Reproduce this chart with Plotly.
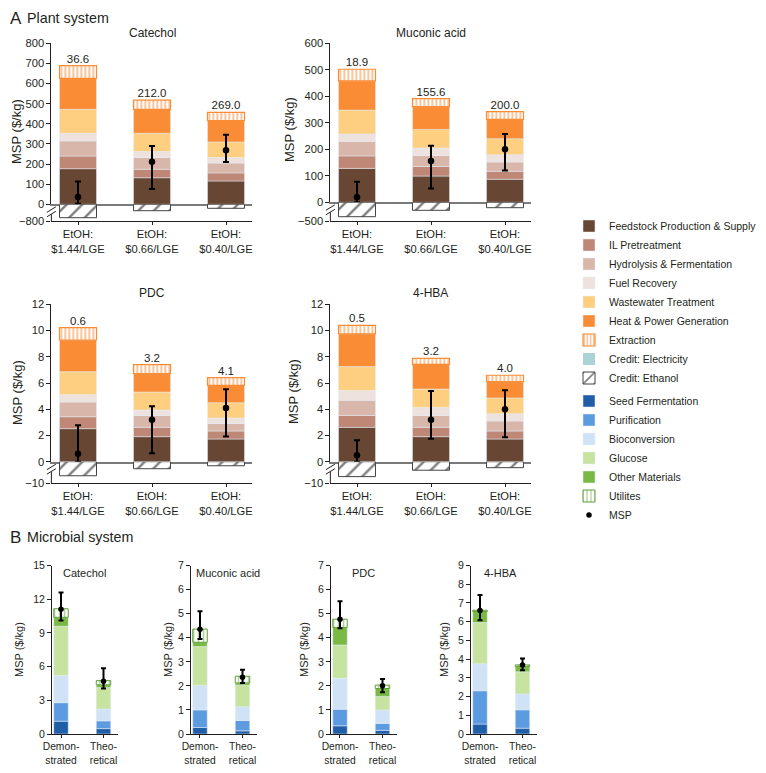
import plotly.graph_objects as go

# The page body keeps its default 8 px margin, so the figure is sized to fill the
# remaining 750 x 757 area and all positions below are given in window pixels.
WIN_W, WIN_H = 766, 773
OFF = 8
W, H = WIN_W - 2 * OFF, WIN_H - 2 * OFF

# ---------------- data: plant system ----------------
plant_products = ["Catechol", "Muconic acid", "PDC", "4-HBA"]
plant_cases = ["EtOH:<br>$1.44/LGE", "EtOH:<br>$0.66/LGE", "EtOH:<br>$0.40/LGE"]

feedstock = {"Catechol": [177, 132, 116], "Muconic acid": [128, 99, 87],
             "PDC": [2.52, 1.91, 1.73], "4-HBA": [2.62, 1.91, 1.73]}
il_pretreatment = {"Catechol": [63, 42, 40], "Muconic acid": [47, 36, 30],
                   "PDC": [0.91, 0.71, 0.61], "4-HBA": [0.91, 0.71, 0.61]}
hydrolysis = {"Catechol": [75, 59, 49], "Muconic acid": [55, 42, 35],
              "PDC": [1.12, 0.91, 0.58], "4-HBA": [1.15, 0.91, 0.76]}
fuel_recovery = {"Catechol": [38, 29, 27], "Muconic acid": [28, 28, 27],
                 "PDC": [0.56, 0.41, 0.41], "4-HBA": [0.74, 0.61, 0.56]}
wastewater = {"Catechol": [119, 91, 78], "Muconic acid": [90, 70, 61],
              "PDC": [1.75, 1.37, 1.17], "4-HBA": [1.83, 1.40, 1.20]}
heat_power = {"Catechol": [154, 119, 106], "Muconic acid": [110, 86, 73],
              "PDC": [2.42, 1.40, 1.32], "4-HBA": [2.49, 1.88, 1.24]}
extraction = {"Catechol": [63, 46, 41], "Muconic acid": [44, 30, 29],
              "PDC": [0.94, 0.69, 0.59], "4-HBA": [0.66, 0.46, 0.49]}
credit_electricity = {"Catechol": [0, 0, 0], "Muconic acid": [0, 0, 0],
                      "PDC": [0, 0, 0], "4-HBA": [0, 0, 0]}
credit_ethanol = {"Catechol": [-642, -307, -192], "Muconic acid": [-385, -214, -144],
                  "PDC": [-6.6, -3.3, -1.9], "4-HBA": [-7.0, -4.0, -2.8]}
plant_msp = {"Catechol": [36.6, 212.0, 269.0], "Muconic acid": [18.9, 155.6, 200.0],
             "PDC": [0.6, 3.2, 4.1], "4-HBA": [0.5, 3.2, 4.0]}
plant_low = {"Catechol": [3, 76, 210], "Muconic acid": [0, 52, 120],
             "PDC": [0.0, 0.64, 1.93], "4-HBA": [0.0, 1.75, 1.87]}
plant_high = {"Catechol": [113, 290, 345], "Muconic acid": [78, 213, 258],
              "PDC": [2.77, 4.22, 5.53], "4-HBA": [1.63, 5.39, 5.45]}
plant_ymax = {"Catechol": 800, "Muconic acid": 600, "PDC": 12, "4-HBA": 12}
plant_dtick = {"Catechol": 100, "Muconic acid": 100, "PDC": 2, "4-HBA": 2}
plant_ymin_break = {"Catechol": -800, "Muconic acid": -500, "PDC": -10, "4-HBA": -10}

# ---------------- data: microbial system ----------------
micro_products = ["Catechol", "Muconic acid", "PDC", "4-HBA"]
micro_cases = ["Demon-<br>strated", "Theo-<br>retical"]

seed = {"Catechol": [1.14, 0.48], "Muconic acid": [0.27, 0.13], "PDC": [0.34, 0.15], "4-HBA": [0.53, 0.31]}
purification = {"Catechol": [1.65, 0.69], "Muconic acid": [0.73, 0.43], "PDC": [0.69, 0.29], "4-HBA": [1.78, 0.98]}
bioconversion = {"Catechol": [2.42, 1.05], "Muconic acid": [1.02, 0.57], "PDC": [1.29, 0.56], "4-HBA": [1.44, 0.85]}
glucose = {"Catechol": [4.38, 1.91], "Muconic acid": [1.61, 0.90], "PDC": [1.38, 0.56], "4-HBA": [2.20, 1.18]}
other_materials = {"Catechol": [0.80, 0.25], "Muconic acid": [0.18, 0.09], "PDC": [0.73, 0.33], "4-HBA": [0.59, 0.29]}
utilities = {"Catechol": [0.76, 0.37], "Muconic acid": [0.55, 0.28], "PDC": [0.34, 0.14], "4-HBA": [0.07, 0.08]}
micro_msp = {"Catechol": [11.1, 4.7], "Muconic acid": [4.35, 2.36], "PDC": [4.77, 2.0], "4-HBA": [6.6, 3.68]}
micro_low = {"Catechol": [10.1, 4.05], "Muconic acid": [3.95, 2.12], "PDC": [4.39, 1.73], "4-HBA": [6.07, 3.40]}
micro_high = {"Catechol": [12.6, 5.85], "Muconic acid": [5.1, 2.67], "PDC": [5.52, 2.28], "4-HBA": [7.42, 4.03]}
micro_ymax = {"Catechol": 15, "Muconic acid": 7, "PDC": 7, "4-HBA": 9}
micro_dtick = {"Catechol": 3, "Muconic acid": 1, "PDC": 1, "4-HBA": 1}

# ---------------- styles ----------------
FONT = "Liberation Sans, Arial, sans-serif"
INK = "#231f20"
ORANGE = "#f98c34"
GREEN_LINE = "#5c9e34"

plant_series = [
    ("Feedstock Production & Supply", feedstock, dict(color="#684634")),
    ("IL Pretreatment", il_pretreatment, dict(color="#be8776")),
    ("Hydrolysis & Fermentation", hydrolysis, dict(color="#d8b6aa")),
    ("Fuel Recovery", fuel_recovery, dict(color="#eee2de")),
    ("Wastewater Treatment", wastewater, dict(color="#fecf80")),
    ("Heat & Power Generation", heat_power, dict(color=ORANGE)),
    ("Extraction", extraction, dict(color="white",
                                     pattern=dict(shape="|", fgcolor=ORANGE, bgcolor="white",
                                                  size=4, solidity=0.5),
                                     line=dict(color=ORANGE, width=1.2))),
]
credit_series = [
    ("Credit: Electricity", credit_electricity, dict(color="#abd3d6", line=dict(width=0))),
    ("Credit: Ethanol", credit_ethanol, dict(color="white",
                                             pattern=dict(shape="/", fgcolor="#000000", bgcolor="white",
                                                          size=11, solidity=0.22),
                                             line=dict(color="#444444", width=1))),
]
micro_series = [
    ("Seed Fermentation", seed, dict(color="#205ea8")),
    ("Purification", purification, dict(color="#5d9be0")),
    ("Bioconversion", bioconversion, dict(color="#cfe2f6")),
    ("Glucose", glucose, dict(color="#c6e4a0")),
    ("Other Materials", other_materials, dict(color="#7ab943")),
    ("Utilites", utilities, dict(color="white",
                                 pattern=dict(shape="|", fgcolor=GREEN_LINE, bgcolor="white",
                                              size=5, solidity=0.3),
                                 line=dict(color=GREEN_LINE, width=1))),
]

# ---------------- geometry (window pixels) ----------------
def px(x):
    return min(max((x - OFF) / W, 0.0), 1.0)


def py(y):
    return min(max(1 - (y - OFF) / H, 0.0), 1.0)


plant_geo = {
    "Catechol": dict(c0=78, ytop=43.3, yzero=204.3, ybot=221, tx=152, ty=33, yt=(17, 132)),
    "Muconic acid": dict(c0=357, ytop=43.3, yzero=202.3, ybot=221, tx=431, ty=33, yt=(290, 130)),
    "PDC": dict(c0=78, ytop=304.3, yzero=461.7, ybot=483, tx=152, ty=293, yt=(17, 393)),
    "4-HBA": dict(c0=357, ytop=304.3, yzero=461.7, ybot=483, tx=431, ty=293, yt=(293, 392)),
}
P_SP = 74.0
P_R = [-0.36, 2.35]

micro_geo = {
    "Catechol": dict(c0=61, tx=84, yt=(19, 650)),
    "Muconic acid": dict(c0=200, tx=228, yt=(168, 650)),
    "PDC": dict(c0=340, tx=363, yt=(304, 650)),
    "4-HBA": dict(c0=480, tx=500, yt=(444, 650)),
}
M_SP = 42.5
M_R = [-0.21, 1.34]
M_TOP, M_ZERO = 565.5, 734

fig = go.Figure()
layout = dict(width=W, height=H, margin=dict(l=0, r=0, t=0, b=0, pad=0, autoexpand=False),
              paper_bgcolor="white", plot_bgcolor="white", barmode="relative",
              font=dict(family=FONT, color=INK, size=11), showlegend=True,
              annotations=[], shapes=[])


def sfx(n):
    return "" if n == 1 else str(n)


def ytitle(cx, cy, size):
    return dict(text="MSP ($/kg)", x=px(cx), y=py(cy), xref="paper", yref="paper",
                textangle=-90, showarrow=False, font=dict(size=size),
                xanchor="center", yanchor="middle")


plant_ids = {}
for i, prod in enumerate(plant_products):
    up, lo = 2 * i + 1, 2 * i + 2
    plant_ids[prod] = (up, lo)
    g = plant_geo[prod]
    x0 = g["c0"] + P_R[0] * P_SP
    x1 = g["c0"] + P_R[1] * P_SP
    common_x = dict(domain=[px(x0), px(x1)], range=P_R, type="category",
                    categoryorder="array", categoryarray=plant_cases, showgrid=False,
                    zeroline=False, tickangle=0)
    layout["xaxis" + sfx(up)] = dict(common_x, anchor="y" + sfx(up), showline=True,
                                     linecolor="#7a7a7a", linewidth=1.6, ticks="",
                                     showticklabels=False)
    layout["xaxis" + sfx(lo)] = dict(common_x, anchor="y" + sfx(lo), showline=True,
                                     linecolor=INK, linewidth=1, ticks="outside", ticklen=3,
                                     tickcolor=INK, tickfont=dict(size=11.2))
    layout["yaxis" + sfx(up)] = dict(domain=[py(g["yzero"]), py(g["ytop"])],
                                     range=[0, plant_ymax[prod]], dtick=plant_dtick[prod],
                                     anchor="x" + sfx(up), showline=True, linecolor=INK,
                                     linewidth=1, ticks="outside", ticklen=4, tickcolor=INK,
                                     tickfont=dict(size=11.2), showgrid=False, zeroline=False)
    layout["yaxis" + sfx(lo)] = dict(domain=[py(g["ybot"]), py(g["yzero"])],
                                     range=[plant_ymin_break[prod], 0],
                                     tickvals=[plant_ymin_break[prod]],
                                     anchor="x" + sfx(lo), showline=False, ticks="outside",
                                     ticklen=4, tickcolor=INK, tickfont=dict(size=11.2),
                                     showgrid=False, zeroline=False)
    layout["annotations"].append(dict(text=prod, x=px(g["tx"]), y=py(g["ty"]),
                                      xref="paper", yref="paper", showarrow=False,
                                      font=dict(size=12), xanchor="center", yanchor="middle"))
    layout["annotations"].append(ytitle(g["yt"][0], g["yt"][1], 13))
    # broken-axis decoration
    yz, yb = g["yzero"], g["ybot"]
    layout["shapes"].append(dict(type="line", xref="paper", yref="paper",
                                 x0=px(x0), x1=px(x0), y0=py(yz + 10), y1=py(yb),
                                 line=dict(color=INK, width=1)))
    for off in (0, 4.5):
        layout["shapes"].append(dict(type="line", xref="paper", yref="paper",
                                     x0=px(x0 - 4.5), x1=px(x0 + 4.5),
                                     y0=py(yz + 8 + off), y1=py(yz + 2.5 + off),
                                     line=dict(color=INK, width=1)))

micro_ids = {}
for i, prod in enumerate(micro_products):
    n = 9 + i
    micro_ids[prod] = n
    g = micro_geo[prod]
    x0 = g["c0"] + M_R[0] * M_SP
    x1 = g["c0"] + M_R[1] * M_SP
    layout["xaxis" + sfx(n)] = dict(domain=[px(x0), px(x1)], range=M_R, type="category",
                                    categoryorder="array", categoryarray=micro_cases,
                                    anchor="y" + sfx(n), showline=True, linecolor=INK,
                                    linewidth=1, ticks="outside", ticklen=3, tickcolor=INK,
                                    tickangle=0, tickfont=dict(size=10.3),
                                    showgrid=False, zeroline=False)
    layout["yaxis" + sfx(n)] = dict(domain=[py(M_ZERO), py(M_TOP)],
                                    range=[0, micro_ymax[prod]], dtick=micro_dtick[prod],
                                    anchor="x" + sfx(n), showline=True, linecolor=INK,
                                    linewidth=1, ticks="outside", ticklen=4, tickcolor=INK,
                                    tickfont=dict(size=10.6), showgrid=False, zeroline=False)
    layout["annotations"].append(dict(text=prod, x=px(g["tx"]), y=py(573),
                                      xref="paper", yref="paper", showarrow=False,
                                      font=dict(size=11), xanchor="center", yanchor="middle"))
    layout["annotations"].append(ytitle(g["yt"][0], g["yt"][1], 11))

# section headings
for letter, title, yy in (("A", "Plant system", 18), ("B", "Microbial system", 537)):
    layout["annotations"].append(dict(text=letter, x=px(8), y=py(yy), xref="paper", yref="paper",
                                      showarrow=False, font=dict(size=17), xanchor="left",
                                      yanchor="middle"))
    layout["annotations"].append(dict(text=title, x=px(25), y=py(yy), xref="paper", yref="paper",
                                      showarrow=False, font=dict(size=14.3), xanchor="left",
                                      yanchor="middle"))

# ---------------- traces ----------------
for name, values, marker in plant_series:
    for j, prod in enumerate(plant_products):
        up, _ = plant_ids[prod]
        fig.add_trace(go.Bar(x=plant_cases, y=values[prod], name=name, marker=marker,
                             width=0.5, xaxis="x" + sfx(up), yaxis="y" + sfx(up),
                             legendgroup="plant", showlegend=(j == 0)))
for name, values, marker in credit_series:
    for j, prod in enumerate(plant_products):
        _, lo = plant_ids[prod]
        fig.add_trace(go.Bar(x=plant_cases, y=values[prod], name=name, marker=marker,
                             width=0.5, xaxis="x" + sfx(lo), yaxis="y" + sfx(lo),
                             legendgroup="plant", showlegend=(j == 0)))
for name, values, marker in micro_series:
    for j, prod in enumerate(micro_products):
        n = micro_ids[prod]
        fig.add_trace(go.Bar(x=micro_cases, y=values[prod], name=name, marker=marker,
                             width=0.34, xaxis="x" + sfx(n), yaxis="y" + sfx(n),
                             legendgroup="micro", showlegend=(j == 0)))

first = True
for prod in micro_products:
    n = micro_ids[prod]
    m, lo_, hi_ = micro_msp[prod], micro_low[prod], micro_high[prod]
    fig.add_trace(go.Scatter(x=micro_cases, y=m, mode="markers", name="MSP",
                             marker=dict(color="black", size=5.5),
                             error_y=dict(type="data", symmetric=False,
                                          array=[h - v for h, v in zip(hi_, m)],
                                          arrayminus=[v - l for v, l in zip(m, lo_)],
                                          color="black", thickness=2, width=2.5),
                             xaxis="x" + sfx(n), yaxis="y" + sfx(n), cliponaxis=False,
                             legendgroup="micro", showlegend=first))
    first = False

for prod in plant_products:
    up, _ = plant_ids[prod]
    m, lo_, hi_ = plant_msp[prod], plant_low[prod], plant_high[prod]
    fig.add_trace(go.Scatter(x=plant_cases, y=m, mode="markers", name="MSP",
                             marker=dict(color="black", size=6.5),
                             error_y=dict(type="data", symmetric=False,
                                          array=[h - v for h, v in zip(hi_, m)],
                                          arrayminus=[v - l for v, l in zip(m, lo_)],
                                          color="black", thickness=2, width=3),
                             xaxis="x" + sfx(up), yaxis="y" + sfx(up), cliponaxis=False,
                             legendgroup="micro", showlegend=False))
    totals = [sum(vals[prod][k] for _, vals, _ in plant_series) for k in range(len(plant_cases))]
    fig.add_trace(go.Scatter(x=plant_cases, y=totals, mode="text",
                             text=[f"{v:.1f}" for v in plant_msp[prod]],
                             textposition="top center", textfont=dict(size=11.5, color=INK),
                             xaxis="x" + sfx(up), yaxis="y" + sfx(up), cliponaxis=False,
                             showlegend=False, hoverinfo="skip"))

layout["legend"] = dict(x=px(569), y=py(211.5), xanchor="left", yanchor="top",
                        traceorder="grouped", tracegroupgap=4, font=dict(size=10.5),
                        bgcolor="rgba(0,0,0,0)", borderwidth=0, itemclick=False,
                        itemdoubleclick=False)

fig.update_layout(**layout)

fig.write_html("out.html", config={"displayModeBar": False})
